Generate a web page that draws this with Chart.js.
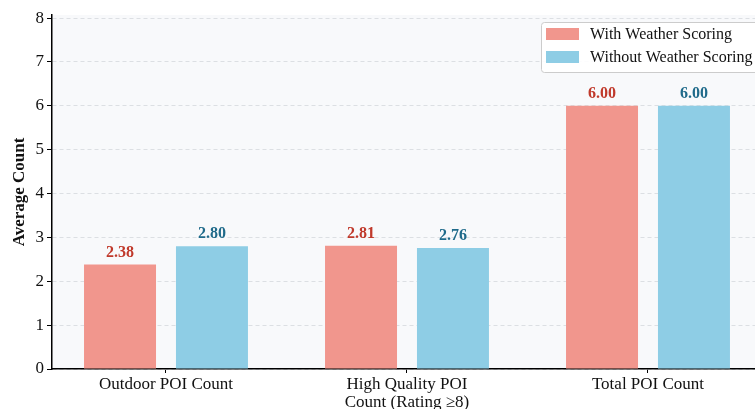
<!DOCTYPE html>
<html><head><meta charset="utf-8">
<script src="https://cdn.jsdelivr.net/npm/chart.js@4/dist/chart.umd.min.js"></script>
<style>html,body{margin:0;padding:0;background:#fff;overflow:hidden}#wrap{width:755px;height:409px;position:relative}</style>
</head><body><div id="wrap"><canvas id="c" width="755" height="409"></canvas></div>
<script>
const categories = ["Outdoor POI Count", ["High Quality POI", "Count (Rating \u22658)"], "Total POI Count"];
const withWeather = [2.38, 2.81, 6.00];
const withoutWeather = [2.80, 2.76, 6.00];
const seriesNames = ["With Weather Scoring", "Without Weather Scoring"];
const yTicks = [0, 1, 2, 3, 4, 5, 6, 7, 8];

const SERIF = "'Liberation Serif','Times New Roman',serif";
const barColors = ["#F1968D", "#8ECDE5"];
const labelColors = ["#C0392B", "#1F6A8A"];

const bgPlugin = {
  id: 'bg',
  beforeDraw(chart) {
    const {ctx, chartArea: a} = chart;
    ctx.save();
    ctx.fillStyle = '#F8F9FB';
    ctx.fillRect(a.left, a.top, a.right - a.left, a.bottom - a.top);
    ctx.restore();
  }
};
const valuePlugin = {
  id: 'vals',
  afterDatasetsDraw(chart) {
    const {ctx} = chart;
    ctx.save();
    ctx.font = "bold 16px " + SERIF;
    ctx.textAlign = 'center';
    ctx.textBaseline = 'bottom';
    chart.data.datasets.forEach((ds, di) => {
      const meta = chart.getDatasetMeta(di);
      meta.data.forEach((bar, i) => {
        ctx.fillStyle = labelColors[di];
        ctx.fillText(ds.data[i].y.toFixed(2), bar.x, bar.y - 4);
      });
    });
    ctx.restore();
  }
};
const legendPlugin = {
  id: 'leg',
  afterDraw(chart) {
    const {ctx} = chart;
    ctx.save();
    const x = 541, y = 22, w = 230, h = 50;
    ctx.fillStyle = 'rgba(255,255,255,0.9)';
    ctx.strokeStyle = '#CCCCCC';
    ctx.lineWidth = 1;
    ctx.beginPath();
    ctx.roundRect(x + 0.5, y + 0.5, w, h, 3);
    ctx.fill(); ctx.stroke();
    ctx.font = "16px " + SERIF;
    ctx.textBaseline = 'middle';
    ctx.textAlign = 'left';
    chart.data.datasets.forEach((ds, i) => {
      const cy = 34 + i * 23;
      ctx.fillStyle = ds.backgroundColor;
      ctx.fillRect(546, cy - 6, 33, 12);
      ctx.fillStyle = '#111';
      ctx.fillText(ds.label, 590, cy + 1);
    });
    ctx.restore();
  }
};

new Chart(document.getElementById('c'), {
  type: 'bar',
  data: {
    datasets: [
      {label: seriesNames[0], data: withWeather.map((v, i) => ({x: i, y: v})), backgroundColor: barColors[0], categoryPercentage: 0.763, barPercentage: 0.783},
      {label: seriesNames[1], data: withoutWeather.map((v, i) => ({x: i, y: v})), backgroundColor: barColors[1], categoryPercentage: 0.763, barPercentage: 0.783}
    ]
  },
  options: {
    responsive: false,
    animation: false,
    layout: {padding: {top: 15, right: 0, left: 0, bottom: 0}},
    plugins: {legend: {display: false}, tooltip: {enabled: false}},
    scales: {
      x: {
        type: 'linear',
        min: -0.473, max: 2.444,
        offset: false,
        afterFit(s) { s.height = 40; },
        afterBuildTicks(s) { s.ticks = categories.map((c, i) => ({value: i})); },
        ticks: {
          autoSkip: false, maxRotation: 0, padding: 3,
          color: '#111',
          font: {family: SERIF, size: 17, lineHeight: 1.05},
          callback: (v) => categories[v]
        },
        grid: {offset: false, drawOnChartArea: false, drawTicks: true, tickLength: 4, tickColor: '#000', tickWidth: 1},
        border: {color: '#000', width: 1.5}
      },
      y: {
        min: 0, max: 8.07,
        afterFit(s) { s.width = 52; },
        afterBuildTicks(s) { s.ticks = yTicks.map(v => ({value: v})); },
        ticks: {padding: 3, color: '#111', font: {family: SERIF, size: 17}},
        title: {display: true, text: 'Average Count', color: '#111', font: {family: SERIF, size: 17, weight: 'bold', lineHeight: 1.2}, padding: {top: 9, bottom: 0}},
        grid: {color: '#DCDFE3', lineWidth: 1, drawTicks: true, tickLength: 5, tickColor: '#000', tickWidth: 1},
        border: {color: '#000', width: 1.5, dash: [4, 3]}
      }
    }
  },
  plugins: [bgPlugin, valuePlugin, legendPlugin]
});
</script></body></html>
